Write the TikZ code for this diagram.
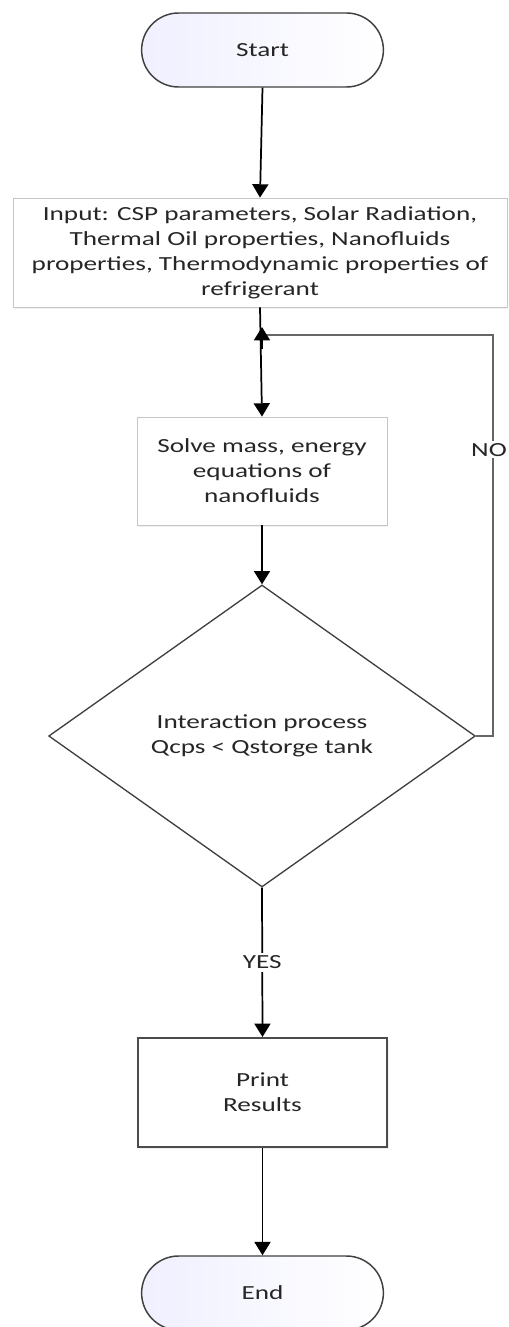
\documentclass[tikz,border=0pt]{standalone}
\usepackage{fontspec}
\setmainfont{Carlito}[FakeStretch=1.36]
\usepackage{tikz}
\usetikzlibrary{shapes.geometric, shapes.misc, arrows.meta, positioning, shadows}
\tikzstyle{arrow}    = [line width=1.3pt, -{Triangle[width=12pt,length=10pt]}]
\tikzstyle{loopline} = [line width=1.5pt, draw=black!60]
\tikzstyle{block}    = [rectangle, draw=gray!45, line width=0.6pt, fill=white, text centered,
                        drop shadow={opacity=0.12, shadow xshift=1pt, shadow yshift=-1.5pt}]
\tikzstyle{term}     = [rounded rectangle, draw=black!75, line width=1.1pt, left color=blue!6, right color=white,
                        minimum width=188pt, minimum height=55.5pt]
\tikzstyle{decision} = [diamond, draw=black!75, line width=1pt, fill=white, inner sep=0pt,
                        minimum width=320pt, minimum height=226.5pt]
\tikzset{every node/.style={align=center, text=black!85, font=\fontsize{15}{18.75}\selectfont}}

\begin{document}
\begin{tikzpicture}[x=0.75pt, y=-0.75pt]
    \useasboundingbox (0,0) rectangle (508,1327);

    \node (start) at (262.5, 50)   [term] {Start};
    \node (input) at (260, 252.5)  [block, minimum width=370.5pt, minimum height=81.75pt]
          {Input: CSP parameters, Solar Radiation,\\Thermal Oil properties, Nanofluids\\properties, Thermodynamic properties of\\refrigerant};
    \node (solve) at (262, 471)    [block, minimum width=187.5pt, minimum height=81pt]
          {Solve mass, energy\\equations of\\nanofluids};
    \node (check) at (262, 736)    [decision] {Interaction process\\Qcps < Qstorge tank};
    \node (print) at (262.5, 1092.5) [block, draw=black!70, line width=1.3pt, minimum width=187pt, minimum height=82pt]
          {Print\\Results};
    \node (end)   at (262.5, 1293) [term] {End};

    \coordinate (merge) at (262, 335);
    \coordinate (mergetip) at (262, 327);
    \coordinate (turn) at (493, 335);

    \draw [arrow] (start.south) -- (input.north);
    \draw [arrow] (input.south) -- (solve.north);
    \draw [arrow] (solve.south) -- (check.north);
    \draw [loopline] (check.east) -| node[pos=0.857, xshift=-3pt, fill=white, inner sep=1.5pt] {NO} (turn) -- (merge);
    \draw [arrow] (merge) ++(0,14) -- (mergetip);
    \draw [arrow] (check.south) -- node[fill=white, inner sep=2pt] {YES} (print.north);
    \draw [arrow] (print.south) -- (end.north);
\end{tikzpicture}
\end{document}
